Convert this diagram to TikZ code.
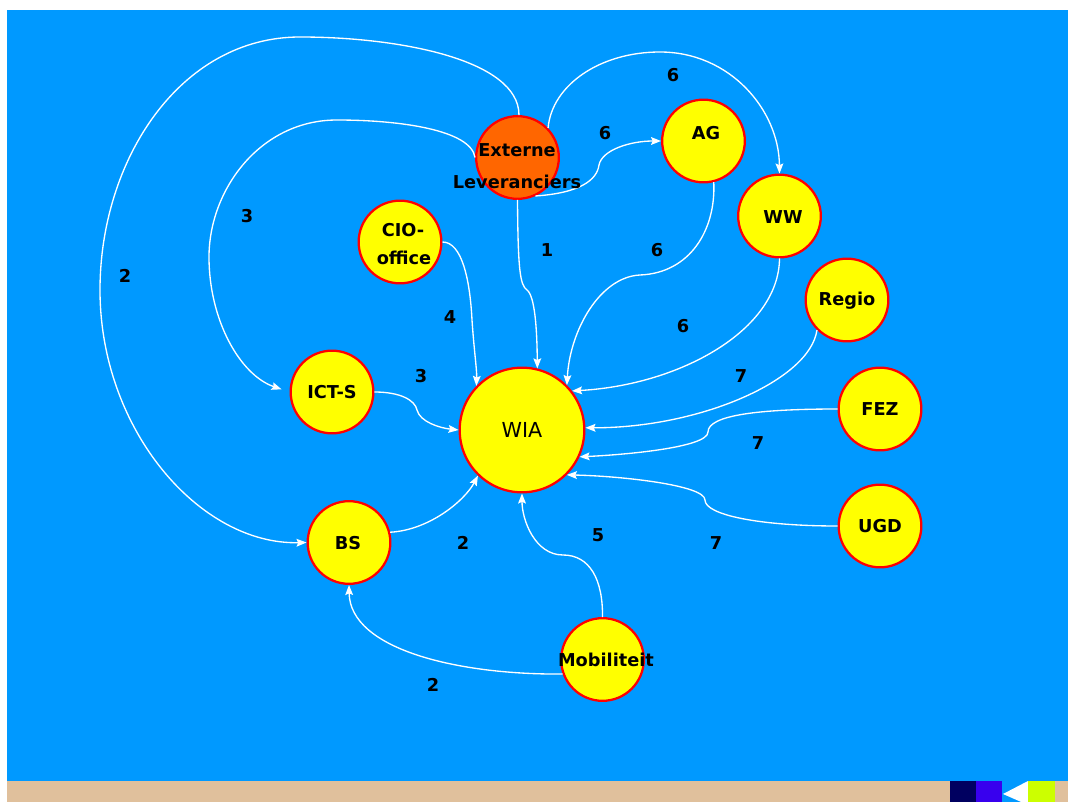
\documentclass[tikz,border=0pt]{standalone}
\usepackage{fontspec}
\setmainfont{DejaVu Sans}
\usetikzlibrary{arrows.meta}
\definecolor{bgblue}{RGB}{0,153,255}
\definecolor{nodeyellow}{RGB}{255,255,0}
\definecolor{nodered}{RGB}{255,0,0}
\definecolor{nodeorange}{RGB}{255,102,0}
\definecolor{tanbar}{RGB}{224,192,156}
\definecolor{navybox}{RGB}{0,0,96}
\definecolor{violetbox}{RGB}{56,0,238}
\definecolor{limebox}{RGB}{204,255,0}
\begin{document}
\begin{tikzpicture}[x=0.75pt,y=-0.75pt,
  circ/.style={circle,draw=nodered,fill=nodeyellow,line width=1.7pt,minimum size=62pt,inner sep=0pt},
  bigcirc/.style={circ,minimum size=93.5pt},
  conn/.style={draw=white,line width=1pt,-{Stealth[length=7.5pt,width=5.8pt,inset=1.2pt]}},
  num/.style={font=\fontsize{13.3}{16}\selectfont\bfseries,text=black,inner sep=0pt},
  nm/.style={font=\fontsize{13.3}{16}\selectfont\bfseries,text=black,inner sep=0pt}]
\useasboundingbox (0,0) rectangle (1068,802);
% background
\fill[white] (0,0) rectangle (1068,802);
\fill[bgblue] (7,10) rectangle (1068,781);
\fill[tanbar] (7,781) rectangle (1068,802);
\fill[navybox] (950,781) rectangle (976,802);
\fill[violetbox] (976,781) rectangle (1002,802);
\fill[bgblue] (1002,781) rectangle (1028,802);
\fill[white] (1028,781) -- (1003,794) -- (1028,805) -- cycle;
\fill[limebox] (1028,781) rectangle (1055,802);

% circles
\node[circ,fill=nodeorange] (ext) at (517.5,157.5) {};
\node[circ] (ag) at (703.5,141) {};
\node[circ] (ww) at (779.5,216) {};
\node[circ] (regio) at (847,300) {};
\node[circ] (fez) at (880,409) {};
\node[circ] (ugd) at (880,526) {};
\node[circ] (cio) at (400,242) {};
\node[circ] (icts) at (332,392) {};
\node[circ] (bs) at (349,542.5) {};
\node[circ] (mob) at (602.5,659.5) {};
\node[bigcirc] (wia) at (522,430) {};

% connectors
\draw[conn] (ext.88) .. controls (519,60) and (400,37) .. (300,37)
  .. controls (180,37) and (100,160) .. (100,290)
  .. controls (100,430) and (200,545) .. (bs.west);
\draw[conn] (ext.west) .. controls (471,130) and (400,120) .. (337,120)
  .. controls (260,120) and (209,190) .. (209,257)
  .. controls (209,320) and (240,375) .. ([xshift=-6pt,yshift=2pt]icts.west);
\draw[conn] (ext.44) .. controls (552,85) and (600,52) .. (660,52)
  .. controls (730,52) and (779,110) .. (ww.north);
\draw[conn] (ext.-65) .. controls (580,193) and (597,180) .. (599,165)
  .. controls (602,150) and (630,141) .. (ag.west);
\draw[conn] (ext.south) .. controls (518,270) and (520,285) .. (527,290)
  .. controls (535,296) and (537,330) .. (wia.76);
\draw[conn] (cio.east) .. controls (462,242) and (470,280) .. (472,320)
  .. controls (474,350) and (477,370) .. (wia.136);
\draw[conn] (ag.-76) .. controls (716,230) and (690,273) .. (640,275)
  .. controls (600,277) and (570,330) .. (wia.45);
\draw[conn] (ww.south) .. controls (779,330) and (680,385) .. (wia.38);
\draw[conn] (regio.225) .. controls (810,380) and (700,428) .. (wia.2);
\draw[conn] (fez.west) .. controls (760,409) and (708,415) .. (708,432)
  .. controls (708,448) and (620,455) .. (wia.-25);
\draw[conn] (ugd.west) .. controls (760,526) and (705,515) .. (705,500)
  .. controls (705,485) and (620,476) .. (wia.-45);
\draw[conn] (icts.east) .. controls (400,392) and (415,400) .. (417,410)
  .. controls (420,422) and (440,428) .. (wia.west);
\draw[conn] (bs.14) .. controls (430,530) and (465,500) .. (wia.-134);
\draw[conn] (mob.north) .. controls (603,580) and (590,555) .. (563,555)
  .. controls (535,555) and (522,520) .. (wia.south);
\draw[conn] (mob.200) .. controls (460,675) and (350,650) .. (bs.south);

% node texts
\node[nm] (t-ext1) at (517,150) {Externe};
\node[nm] (t-ext2) at (517,182) {Leveranciers};
\node[nm] (t-ag) at (706,133) {AG};
\node[nm] (t-ww) at (783,217) {WW};
\node[nm] (t-regio) at (847,301) {Regio};
\node[nm] (t-fez) at (880,409) {FEZ};
\node[nm] (t-ugd) at (880,526) {UGD};
\node[nm] (t-cio1) at (403,230) {CIO-};
\node[nm] (t-cio2) at (404,258) {office};
\node[nm] (t-icts) at (332,392) {ICT-S};
\node[nm] (t-bs) at (348,543) {BS};
\node[font=\fontsize{15.5}{18}\selectfont,text=black,inner sep=0pt] (t-wia) at (522,430) {WIA};
\node[nm] (t-mob) at (606,660) {Mobiliteit};

% edge numbers
\node[num] (n1) at (125,276) {2};
\node[num] (n2) at (247,216) {3};
\node[num] (n3) at (673,75) {6};
\node[num] (n4) at (605,133) {6};
\node[num] (n5) at (547,250) {1};
\node[num] (n6) at (450,317) {4};
\node[num] (n7) at (657,250) {6};
\node[num] (n8) at (683,326) {6};
\node[num] (n9) at (421,376) {3};
\node[num] (n10) at (741,376) {7};
\node[num] (n11) at (758,443) {7};
\node[num] (n12) at (463,543) {2};
\node[num] (n13) at (598,535) {5};
\node[num] (n14) at (716,543) {7};
\node[num] (n15) at (433,685) {2};
\end{tikzpicture}
\end{document}
